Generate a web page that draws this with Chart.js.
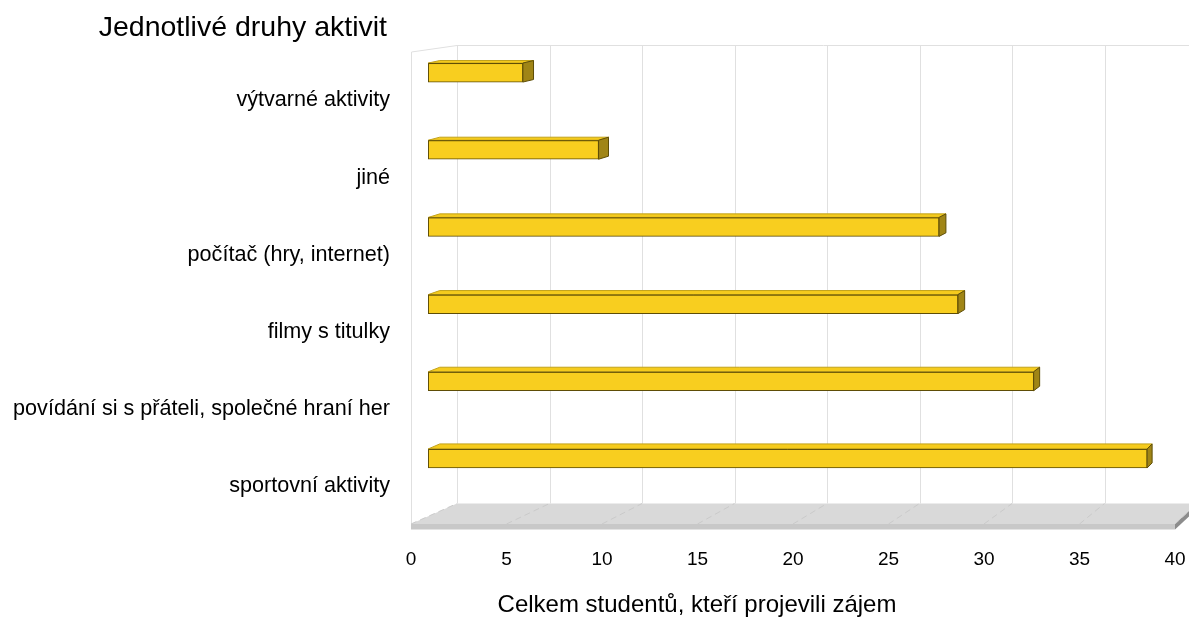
<!DOCTYPE html>
<html>
<head>
<meta charset="utf-8">
<script src="https://cdn.jsdelivr.net/npm/chart.js@4.4.1/dist/chart.umd.min.js"></script>
<style>
  html, body { margin: 0; padding: 0; background: #fff; }
  #wrap { position: relative; width: 1189px; height: 617px; }
</style>
</head>
<body>
<div id="wrap"><canvas id="chart"></canvas></div>
<script>
const categories = [
  'výtvarné aktivity',
  'jiné',
  'počítač (hry, internet)',
  'filmy s titulky',
  'povídání si s přáteli, společné hraní her',
  'sportovní aktivity'
];
const students = [5, 9, 27, 28, 32, 38];
const xTickValues = [0, 5, 10, 15, 20, 25, 30, 35, 40];
const chartTitle = 'Jednotlivé druhy aktivit';
const xTitle = 'Celkem studentů, kteří projevili zájem';

// plot area (front plane) in px
const AREA_LEFT = 411;
const AREA_RIGHT = 1175;
const AREA_TOP = 30;
const AREA_BOTTOM = 497;
const FONT = "'Liberation Sans', Arial, sans-serif";

// hidden scale whose 0 / 40 land on the given pixels (perspective planes)
function planeRange(px0, px40) {
  const per = (px40 - px0) / 40;
  const min = -(px0 - AREA_LEFT) / per;
  return { min: min, max: min + (AREA_RIGHT - AREA_LEFT) / per };
}
const barPlane = planeRange(428.3, 1185);
const wallPlane = planeRange(457, 1197);

// bar depth: side face narrower to the right, top face taller further down
const depthX = (px) => 11.5 - 0.0091 * (px - 428);
const depthY = (py) => 2.5 + 2.5 * (py - 68) / 390;

const scene3d = {
  id: 'scene3d',
  beforeDatasetsDraw(chart) {
    const ctx = chart.ctx;
    const xf = chart.scales.x, xw = chart.scales.xw;
    const wallTop = 45, floorBack = 503.5, floorFront = 524, floorBottom = 529.5;
    const f0 = xf.getPixelForValue(0), f40 = xf.getPixelForValue(40);
    const b0 = xw.getPixelForValue(0), b40 = xw.getPixelForValue(40);
    ctx.save();
    // walls
    ctx.strokeStyle = '#e0e0e0';
    ctx.lineWidth = 1;
    ctx.beginPath();
    ctx.moveTo(f0 + 0.5, floorFront);
    ctx.lineTo(f0 + 0.5, 52);
    ctx.lineTo(b0, wallTop + 0.5);
    ctx.lineTo(b40 + 20, wallTop + 0.5);
    ctx.stroke();
    xTickValues.forEach(v => {
      const x = Math.round(xw.getPixelForValue(v)) + 0.5;
      ctx.beginPath();
      ctx.moveTo(x, wallTop);
      ctx.lineTo(x, floorBack);
      ctx.stroke();
    });
    // floor
    ctx.fillStyle = '#d9d9d9';
    ctx.beginPath();
    ctx.moveTo(f0, floorFront);
    ctx.lineTo(f40, floorFront);
    ctx.lineTo(b40, floorBack);
    ctx.lineTo(b0, floorBack);
    ctx.closePath();
    ctx.fill();
    ctx.fillStyle = '#c8c8c8';
    ctx.fillRect(f0, floorFront, f40 - f0, floorBottom - floorFront);
    ctx.fillStyle = '#8c8c8c';
    ctx.beginPath();
    ctx.moveTo(f40, floorFront);
    ctx.lineTo(b40, floorBack);
    ctx.lineTo(b40, floorBack + (floorBottom - floorFront));
    ctx.lineTo(f40, floorBottom);
    ctx.closePath();
    ctx.fill();
    ctx.strokeStyle = '#cacaca';
    ctx.setLineDash([6, 4]);
    xTickValues.forEach(v => {
      ctx.beginPath();
      ctx.moveTo(xf.getPixelForValue(v), floorFront);
      ctx.lineTo(xw.getPixelForValue(v), floorBack);
      ctx.stroke();
    });
    ctx.restore();
  },
  afterDatasetsDraw(chart) {
    const ctx = chart.ctx;
    const meta = chart.getDatasetMeta(0);
    ctx.save();
    ctx.lineWidth = 1;
    meta.data.forEach(bar => {
      const top = bar.y - bar.height / 2;
      const bottom = bar.y + bar.height / 2;
      const dxL = depthX(bar.base), dxR = depthX(bar.x);
      const dy = depthY(bar.y);
      // top face
      ctx.fillStyle = '#f5cb1d';
      ctx.strokeStyle = '#c2a21a';
      ctx.beginPath();
      ctx.moveTo(bar.base, top);
      ctx.lineTo(bar.base + dxL, top - dy);
      ctx.lineTo(bar.x + dxR, top - dy);
      ctx.lineTo(bar.x, top);
      ctx.closePath();
      ctx.fill();
      ctx.stroke();
      ctx.strokeStyle = '#5e4d06';
      ctx.beginPath();
      ctx.moveTo(bar.base, top + 0.5);
      ctx.lineTo(bar.x, top + 0.5);
      ctx.stroke();
      // side face
      ctx.fillStyle = '#a08516';
      ctx.beginPath();
      ctx.moveTo(bar.x, top);
      ctx.lineTo(bar.x + dxR, top - dy);
      ctx.lineTo(bar.x + dxR, bottom - dy);
      ctx.lineTo(bar.x, bottom);
      ctx.closePath();
      ctx.fill();
      ctx.stroke();
    });
    ctx.restore();
  },
  afterDraw(chart) {
    const ctx = chart.ctx;
    ctx.save();
    ctx.fillStyle = '#000';
    ctx.textBaseline = 'alphabetic';
    ctx.font = '28.5px ' + FONT;
    ctx.textAlign = 'right';
    ctx.fillText(chartTitle, 387, 36);
    ctx.font = '24px ' + FONT;
    ctx.textAlign = 'center';
    ctx.fillText(xTitle, 697, 612);
    ctx.restore();
  }
};

new Chart(document.getElementById('chart'), {
  type: 'bar',
  data: {
    labels: categories,
    datasets: [{
      label: xTitle,
      data: students,
      xAxisID: 'xb',
      backgroundColor: '#f8ce1f',
      borderColor: '#5e4d06',
      borderWidth: 1,
      borderSkipped: false,
      barThickness: 19
    }]
  },
  options: {
    indexAxis: 'y',
    responsive: true,
    maintainAspectRatio: false,
    animation: false,
    layout: { padding: { top: AREA_TOP, right: 1189 - AREA_RIGHT, left: 0, bottom: 0 } },
    plugins: {
      legend: { display: false },
      tooltip: { enabled: false }
    },
    scales: {
      x: {
        type: 'linear',
        position: 'bottom',
        min: 0,
        max: 40,
        afterFit: (s) => {
          s.height = 617 - AREA_BOTTOM;
          s.paddingLeft = 0;
          s.paddingRight = 0;
        },
        afterBuildTicks: (s) => { s.ticks = xTickValues.map(v => ({ value: v })); },
        grid: { display: false, drawTicks: false },
        border: { display: false },
        ticks: { padding: 51, color: '#000', font: { family: FONT, size: 19 } }
      },
      xb: { type: 'linear', display: false, min: barPlane.min, max: barPlane.max },
      xw: { type: 'linear', display: false, min: wallPlane.min, max: wallPlane.max },
      y: {
        afterFit: (s) => { s.width = AREA_LEFT; },
        grid: { display: false, drawTicks: false },
        border: { display: false },
        ticks: { padding: 21, labelOffset: 28, color: '#000', font: { family: FONT, size: 21.6 } }
      }
    }
  },
  plugins: [scene3d]
});
</script>
</body>
</html>
